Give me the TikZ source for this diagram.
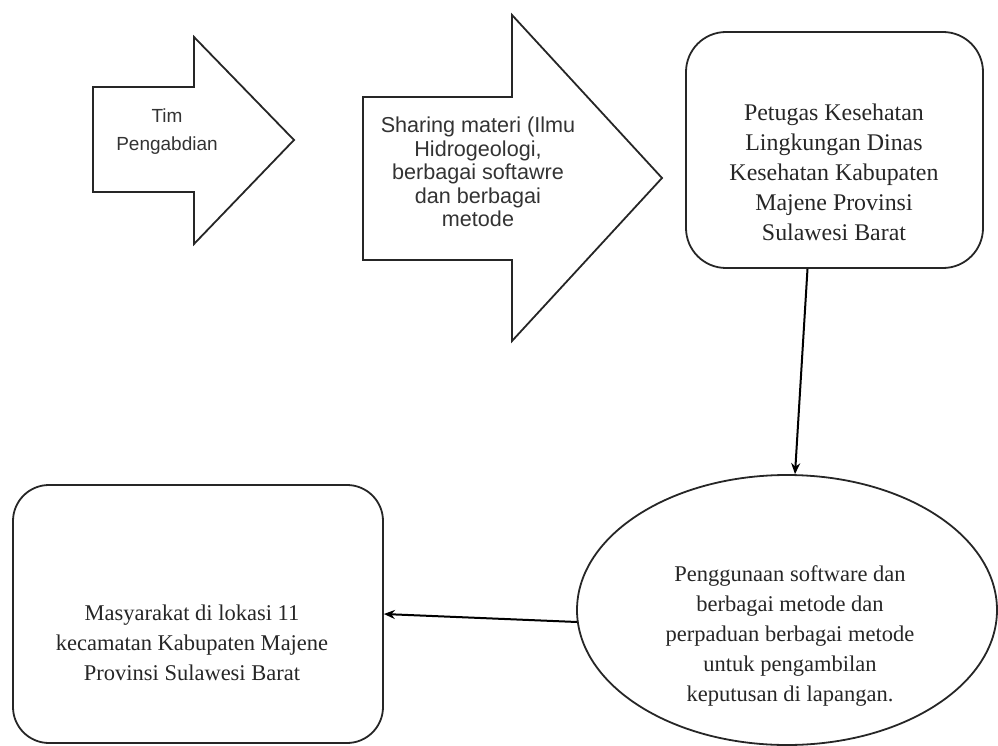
\documentclass[tikz,border=0pt]{standalone}
\usepackage{fontspec}
\setmainfont{Liberation Serif}
\newfontfamily\arialfont{Liberation Sans}
\usetikzlibrary{shapes.geometric,arrows.meta,calc}
\tikzset{
  shapeline/.style={draw=black!85, line width=1.8pt},
  sanstext/.style={align=center, font=\arialfont\fontsize{21.6}{23.5}\selectfont, text=black!80, inner sep=0pt},
  seriftext/.style={align=center, font=\fontsize{22.5}{30}\selectfont, text=black!85, inner sep=0pt},
  roundbox/.style={shapeline, rounded corners=40pt, inner sep=0pt},
  arr/.style={draw=black, line width=2pt, -{Stealth[length=11pt,width=9pt]}}
}
\begin{document}
\begin{tikzpicture}[x=1pt,y=-1pt]
\useasboundingbox (0,0) rectangle (998,746);
% arrow 1
\draw[shapeline] (93,87) -- (194,87) -- (194,37) -- (294,140) -- (194,244) -- (194,192) -- (93,192) -- cycle;
\node[sanstext, font=\arialfont\fontsize{19}{28}\selectfont] (t1) at (167,132) {Tim\\Pengabdian};
% arrow 2
\draw[shapeline] (363,97) -- (512,97) -- (512,15) -- (662,178) -- (512,341) -- (512,260) -- (363,260) -- cycle;
\node[sanstext] (t2) at (478,172) {Sharing materi (Ilmu\\Hidrogeologi,\\berbagai softawre\\dan berbagai\\metode};
% box 1
\node[roundbox, minimum width=297pt, minimum height=236pt] (box1) at (834.5,150) {};
\node[seriftext, font=\fontsize{23.9}{30}\selectfont] (t3) at (834,172) {Petugas Kesehatan\\Lingkungan Dinas\\Kesehatan Kabupaten\\Majene Provinsi\\Sulawesi Barat};
% ellipse
\node[shapeline, ellipse, minimum width=420pt, minimum height=270pt, inner sep=0pt] (ell) at (787,610) {};
\node[seriftext] (t4) at (790,636) {Penggunaan software dan\\berbagai metode dan\\perpaduan berbagai metode\\untuk pengambilan\\keputusan di lapangan.};
% box 2
\node[roundbox, rounded corners=36pt, minimum width=370pt, minimum height=258pt] (box2) at (198,614) {};
\node[seriftext] (t5) at (192,643) {Masyarakat di lokasi 11\\kecamatan Kabupaten Majene\\Provinsi Sulawesi Barat};
% connectors
\draw[arr] ($(box1.south)+(-27,0)$) -- ($(ell.north)+(8,0)$);
\draw[arr] ($(ell.west)+(1,12)$) -- (box2.east);
\end{tikzpicture}
\end{document}
